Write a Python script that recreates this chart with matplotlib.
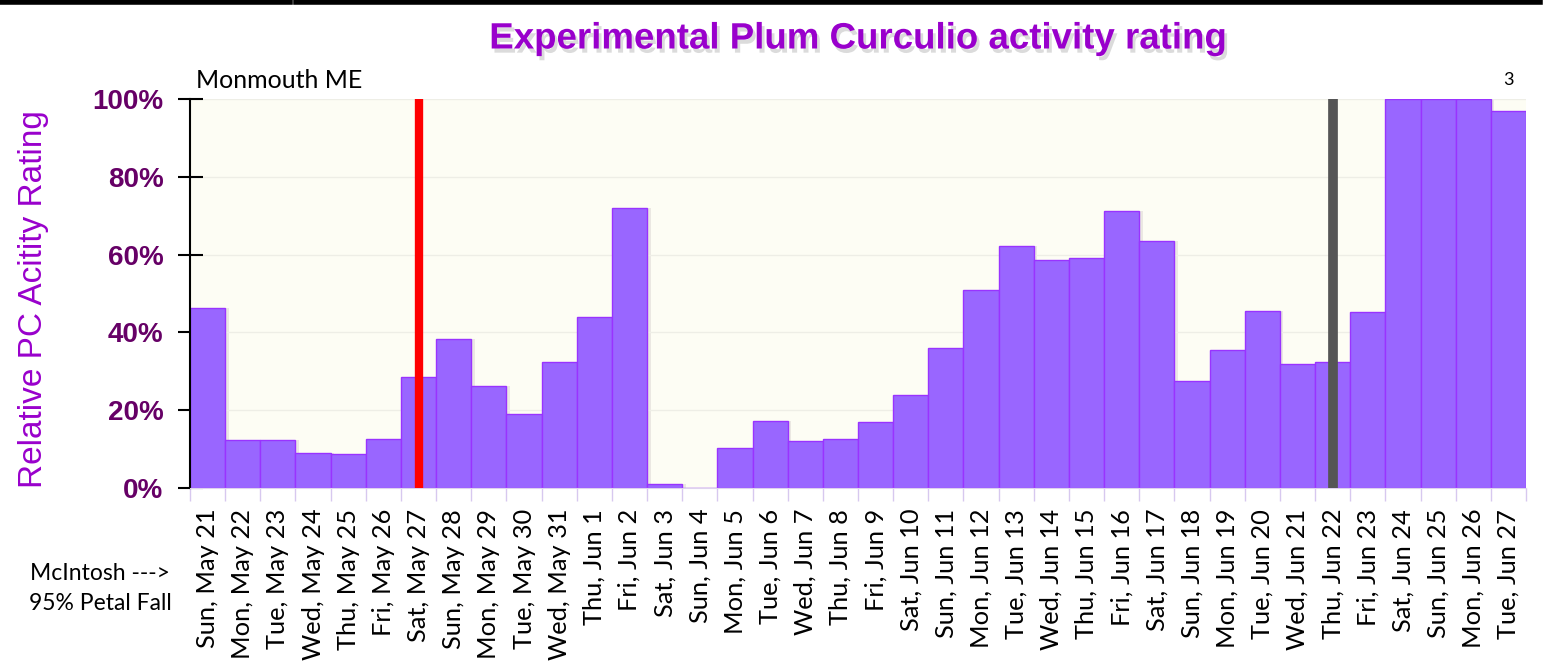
import matplotlib.pyplot as plt
import matplotlib.patheffects as pe
from matplotlib.lines import Line2D
from matplotlib.ticker import FixedLocator, FuncFormatter

# days shown on the x axis
days = ['Sun, May 21', 'Mon, May 22', 'Tue, May 23', 'Wed, May 24', 'Thu, May 25',
        'Fri, May 26', 'Sat, May 27', 'Sun, May 28', 'Mon, May 29', 'Tue, May 30',
        'Wed, May 31', 'Thu, Jun 1', 'Fri, Jun 2', 'Sat, Jun 3', 'Sun, Jun 4',
        'Mon, Jun 5', 'Tue, Jun 6', 'Wed, Jun 7', 'Thu, Jun 8', 'Fri, Jun 9',
        'Sat, Jun 10', 'Sun, Jun 11', 'Mon, Jun 12', 'Tue, Jun 13', 'Wed, Jun 14',
        'Thu, Jun 15', 'Fri, Jun 16', 'Sat, Jun 17', 'Sun, Jun 18', 'Mon, Jun 19',
        'Tue, Jun 20', 'Wed, Jun 21', 'Thu, Jun 22', 'Fri, Jun 23', 'Sat, Jun 24',
        'Sun, Jun 25', 'Mon, Jun 26', 'Tue, Jun 27']

# relative activity rating (%)
rating = [46.3, 12.4, 12.4, 9.0, 8.8, 12.6, 28.5, 38.4, 26.1, 18.9,
          32.5, 44.0, 72.0, 0.9, 0.0, 10.4, 17.1, 12.0, 12.6, 16.9,
          24.0, 36.1, 50.9, 62.3, 58.5, 59.2, 71.1, 63.5, 27.4, 35.6,
          45.5, 31.9, 32.4, 45.2, 100.0, 100.0, 100.0, 96.8]

petal_fall_day = 'Sat, May 27'
current_day = 'Thu, Jun 22'

fig = plt.figure(figsize=(15.56, 6.64), dpi=100)
ax = fig.add_axes([190 / 1556, 1 - 488 / 664, 1336 / 1556, 389 / 664])
ax.set_facecolor('#fdfdf4')

x = list(range(len(days)))

# faint shadow behind bars, then the bars
ax.bar([i + 0.1 for i in x], rating, width=1.0, color='#ebe8e2', zorder=1)
ax.bar(x, rating, width=1.0, color='#9966ff', edgecolor='#9933ff', linewidth=1.0, zorder=2)

ax.axvline(days.index(petal_fall_day), color='#ff0000', linewidth=6, zorder=3)
ax.axvline(days.index(current_day), color='#555555', linewidth=7, zorder=3)

ax.set_xlim(-0.5, len(days) - 0.5)
ax.set_ylim(0, 100)

ax.yaxis.set_major_locator(FixedLocator([0, 20, 40, 60, 80, 100]))
ax.yaxis.set_major_formatter(FuncFormatter(lambda v, p: f'{v:.0f}%'))
ax.grid(axis='y', color='#eeeee6', linewidth=1, zorder=0)

ax.set_xticks(x)
ax.set_xticklabels(days, rotation=90, family='Lato', fontsize=18.3, color='black')
ax.set_xticks([i - 0.5 for i in range(len(days) + 1)], minor=True)
ax.tick_params(axis='x', which='major', length=0, pad=15)
ax.tick_params(axis='x', which='minor', length=9, color='#d7c8ef', width=1)

ax.tick_params(axis='y', direction='inout', length=18, width=1.5, color='black', pad=10)
for lbl in ax.get_yticklabels():
    lbl.set_fontfamily('Liberation Sans')
    lbl.set_fontweight('bold')
    lbl.set_fontsize(20)
    lbl.set_color('#660066')

for side in ['top', 'right']:
    ax.spines[side].set_visible(False)
ax.spines['left'].set_color('black')
ax.spines['left'].set_linewidth(1.5)
ax.spines['bottom'].set_color('#ddd2ee')

fig.text(34 / 1556, 1 - 299 / 664, 'Relative PC Acitity Rating', rotation=90,
         ha='center', va='center', family='Liberation Sans', fontsize=24, color='#9900cc')

# title with a soft shadow
fig.text(857 / 1556, 1 - 39 / 664, 'Experimental Plum Curculio activity rating',
         ha='center', va='center', family='Liberation Sans', weight='bold', fontsize=26.4,
         color='#9900cc',
         path_effects=[pe.SimplePatchShadow(offset=(2, -3), shadow_rgbFace='#999999', alpha=0.35),
                       pe.Normal()])

fig.text(196 / 1556, 1 - 80 / 664, 'Monmouth ME', ha='left', va='center',
         family='Lato', fontsize=18, color='black')
fig.text(1508 / 1556, 1 - 80 / 664, '3', ha='center', va='center',
         family='Lato', fontsize=13, color='black')

fig.text(100 / 1556, 1 - 573 / 664, 'McIntosh --->', ha='center', va='center',
         family='Lato', fontsize=16.5, color='black')
fig.text(100 / 1556, 1 - 603 / 664, '95% Petal Fall', ha='center', va='center',
         family='Lato', fontsize=16.5, color='black')

# thin black frame edge at the top of the image
fig.add_artist(Line2D([0, 290 / 1556], [0.997, 0.997], color='black', linewidth=4))
fig.add_artist(Line2D([296 / 1556, 1540 / 1556], [0.997, 0.997], color='black', linewidth=4))

fig.savefig('out.png', dpi=100)
